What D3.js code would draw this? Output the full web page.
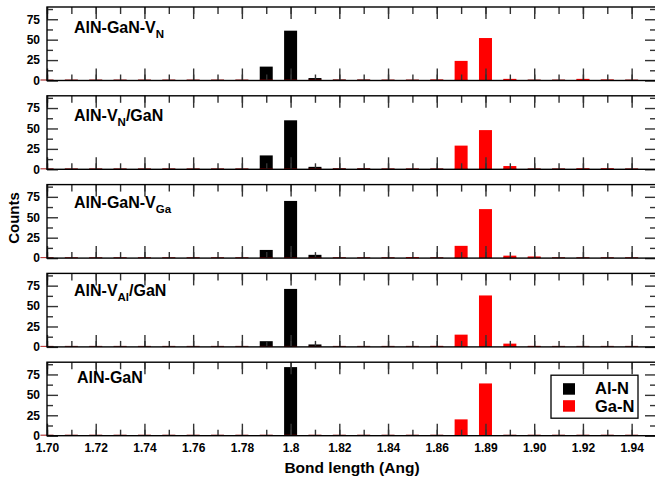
<!DOCTYPE html>
<meta charset="utf-8">
<script src="https://d3js.org/d3.v7.min.js"></script>
<style>
body { margin: 0; background: #fff; }
text { font-family: "Liberation Sans", Arial, sans-serif; }
.axis .domain { display: none; }
.axis line { stroke: #333; stroke-width: 1.4; }
.axis text { font-size: 12px; font-weight: bold; fill: #000; }
</style>
<body>
<div id="canvas"></div>
<script>

// bins de comprimento de ligação (Ang)
var bins = [1.70, 1.71, 1.72, 1.73, 1.74, 1.75, 1.76, 1.77, 1.78, 1.79,
            1.80, 1.81, 1.82, 1.83, 1.84, 1.85, 1.86, 1.87, 1.88, 1.89,
            1.90, 1.91, 1.92, 1.93, 1.94];

// contagens Al-N por painel
var alnVN     = [0,0,0,0,0,0,0,0,0,17, 61,3,1,1,0,0,0,0,0,0, 0,0,0,0,0];
var alnVNGaN  = [0,0,0,0,0,0,0,0,0,17, 60,3,1,1,0,0,0,0,0,0, 0,0,0,0,0];
var alnVGa    = [0,0,0,0,0,0,0,0,0,10, 70,4,0,0,0,0,0,0,0,0, 0,0,0,0,0];
var alnVAlGaN = [0,0,0,0,0,0,0,0,0,7,  71,3,0,0,0,0,0,0,0,0, 0,0,0,0,0];
var alnGaN    = [0,0,0,0,0,0,0,0,0,0,  84,0,0,0,0,0,0,0,0,0, 0,0,0,0,0];

// contagens Ga-N por painel
var ganVN     = [0,0,0,0,0,0,0,0,0,0, 0,0,0,0,0,0,1,24,52,2, 0,0,2,1,0];
var ganVNGaN  = [0,0,0,0,0,0,0,0,0,0, 0,0,0,0,0,0,0,29,48,4, 0,0,1,1,0];
var ganVGa    = [0,0,0,0,0,0,0,0,0,0, 0,0,0,0,0,1,0,15,60,3, 2,0,0,0,0];
var ganVAlGaN = [0,0,0,0,0,0,0,0,0,0, 0,0,0,0,0,0,1,15,63,4, 1,0,0,0,0];
var ganGaN    = [0,0,0,0,0,0,0,0,0,0, 0,0,0,0,0,0,0,20,64,0, 0,0,0,0,0];

// titulos dos paineis (texto, subscrito, resto)
var titleMain = ["AlN-GaN-V", "AlN-V", "AlN-GaN-V", "AlN-V", "AlN-GaN"];
var titleSub  = ["N", "N", "Ga", "Al", ""];
var titleTail = ["", "/GaN", "", "/GaN", ""];

// ticks
var xMajor = [1.70, 1.72, 1.74, 1.76, 1.78, 1.80, 1.82, 1.84, 1.86, 1.88, 1.90, 1.92, 1.94];
var xMajorLabels = ["1.70", "1.72", "1.74", "1.76", "1.78", "1.8", "1.82", "1.84", "1.86", "1.89", "1.90", "1.92", "1.94"];
var yMajor = [0, 25, 50, 75];
var yMinor = [12.5, 37.5, 62.5, 87.5];

var seriesNames = ["Al-N", "Ga-N"];
var seriesColors = ["#000000", "#ff0000"];

var panels = [
    [alnVN, ganVN], [alnVNGaN, ganVNGaN], [alnVGa, ganVGa],
    [alnVAlGaN, ganVAlGaN], [alnGaN, ganGaN]
];

var width = 655, height = 481;
var left = 47, right = 656;
var panelH = 73.5, panelStep = 88.8, firstTop = 7;

var svg = d3.select("#canvas").append("svg")
    .attr("width", width)
    .attr("height", height);

var x = d3.scaleLinear().domain([1.70, 1.95]).range([left, right]);
var y = d3.scaleLinear().domain([0, 90]).range([panelH, 0]);
var barW = 13;

panels.forEach(function(series, i) {
    var g = svg.append("g")
        .attr("transform", "translate(0," + (firstTop + i * panelStep) + ")");

    // barras
    series.forEach(function(vals, s) {
        g.selectAll(".bar" + s)
            .data(vals)
            .enter().append("rect")
            .attr("x", function(d, k) { return x(bins[k]) - barW / 2; })
            .attr("width", barW)
            .attr("y", function(d) { return Math.min(y(d), panelH - 1); })
            .attr("height", function(d) { return Math.max(panelH - y(d), 1); })
            .attr("fill", seriesColors[s])
            .attr("fill-opacity", function(d) { return d > 0 ? 1 : 0.55; });
    });

    // eixos: ticks menores e maiores
    var last = (i === panels.length - 1);
    g.append("g").attr("class", "axis")
        .attr("transform", "translate(0," + panelH + ")")
        .call(d3.axisBottom(x).tickValues(bins).tickSize(-6).tickFormat(""));
    g.append("g").attr("class", "axis")
        .attr("transform", "translate(0," + panelH + ")")
        .call(d3.axisBottom(x).tickValues(xMajor).tickSize(-12).tickPadding(8)
            .tickFormat(function(d, k) { return last ? xMajorLabels[k] : ""; }));
    g.append("g").attr("class", "axis")
        .call(d3.axisTop(x).tickValues(bins).tickSize(-7).tickFormat(""));
    g.append("g").attr("class", "axis")
        .call(d3.axisTop(x).tickValues(xMajor).tickSize(-12).tickFormat(""));

    g.append("g").attr("class", "axis")
        .attr("transform", "translate(" + left + ",0)")
        .call(d3.axisLeft(y).tickValues(yMajor).tickSize(-11).tickPadding(7).tickFormat(d3.format("d")));
    g.append("g").attr("class", "axis")
        .attr("transform", "translate(" + left + ",0)")
        .call(d3.axisLeft(y).tickValues(yMinor).tickSize(-6).tickFormat(""));
    g.append("g").attr("class", "axis")
        .attr("transform", "translate(" + right + ",0)")
        .call(d3.axisRight(y).tickValues(yMajor).tickSize(-11).tickFormat(""));
    g.append("g").attr("class", "axis")
        .attr("transform", "translate(" + right + ",0)")
        .call(d3.axisRight(y).tickValues(yMinor).tickSize(-6).tickFormat(""));

    // moldura
    g.append("rect")
        .attr("x", left).attr("y", 0)
        .attr("width", right - left).attr("height", panelH)
        .attr("fill", "none").attr("stroke", "#000").attr("stroke-width", 1.4);

    // titulo do painel
    var t = g.append("text")
        .attr("x", last ? 77 : 74)
        .attr("y", 26 - i * 1.2)
        .style("font-size", "16px").style("font-weight", "bold");
    t.append("tspan").text(titleMain[i]);
    if (titleSub[i]) {
        t.append("tspan").attr("dy", 5).style("font-size", "11.5px").text(titleSub[i]);
        if (titleTail[i]) t.append("tspan").attr("dy", -5).text(titleTail[i]);
    }

    // legenda no ultimo painel
    if (last) {
        var lg = g.append("g").attr("transform", "translate(551,13)");
        lg.append("rect").attr("width", 87).attr("height", 43)
            .attr("fill", "#fff").attr("stroke", "#000").attr("stroke-width", 1.3);
        seriesNames.forEach(function(name, s) {
            lg.append("rect").attr("x", 12).attr("y", 8 + s * 17)
                .attr("width", 12).attr("height", 11.5).attr("fill", seriesColors[s]);
            lg.append("text").attr("x", 44).attr("y", 19 + s * 17.5)
                .style("font-size", "16.5px").style("font-weight", "bold")
                .text(name);
        });
    }
});

// titulos dos eixos
svg.append("text")
    .attr("x", 352).attr("y", 473)
    .attr("text-anchor", "middle")
    .style("font-size", "15.5px").style("font-weight", "bold")
    .text("Bond length (Ang)");

svg.append("text")
    .attr("transform", "translate(19,218) rotate(-90)")
    .attr("text-anchor", "middle")
    .style("font-size", "15px").style("font-weight", "bold")
    .text("Counts");

</script>
</body>
